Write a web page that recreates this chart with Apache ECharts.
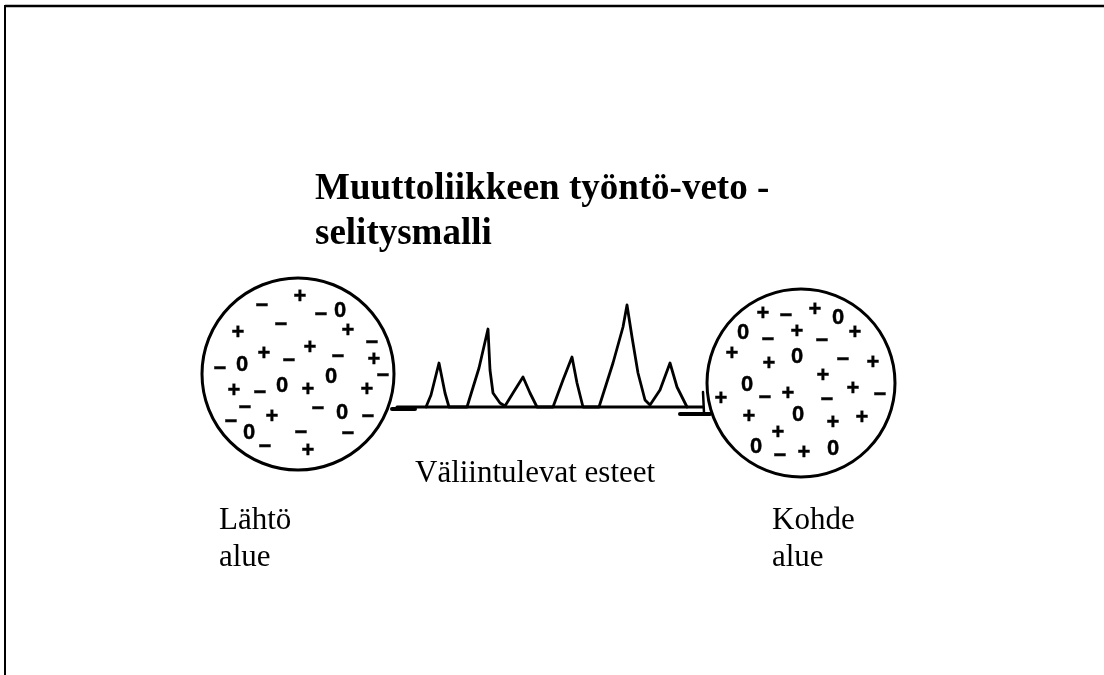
<!DOCTYPE html>
<html>
<head>
<meta charset="utf-8">
<title>Muuttoliikkeen työntö-veto -selitysmalli</title>
<script src="https://cdn.jsdelivr.net/npm/echarts@6/dist/echarts.min.js"></script>
<style>
  html, body { margin: 0; padding: 0; background: #fff; }
  #chart { width: 1104px; height: 675px; }
</style>
</head>
<body>
<div id="chart"></div>
<script>
// drawing space: one unit = one pixel, y grows downwards
const areaCenters = [[298, 374], [801, 383]]

// the obstacles between the areas (peaks)
const obstacleProfile = [
  [426, 407], [431, 395], [439, 363], [445, 393], [449, 407],
  [467, 407], [479, 368], [488, 329], [490, 370], [493, 393], [500, 403], [505, 406],
  [513, 393], [523, 377], [530, 393], [537, 407],
  [553, 407], [563, 380], [572, 357], [577, 383], [583, 407],
  [599, 407], [613, 363], [623, 327], [627, 305], [632, 337], [638, 373], [645, 400], [650, 405],
  [660, 390], [670, 363], [677, 387], [687, 407]
]
const groundLine = [[397, 407], [703, 407]]
const leftStub = [[392, 409], [415, 409]]
const rightStub = [[680, 414], [710, 414]]
const rightEdgeMark = [[703, 392], [704, 413]]

// factors in the origin area (+ pull, − push, 0 neutral)
const originSigns = [
  [300, 297, '+'], [262, 306, '−'], [321, 315, '−'], [340, 311, '0'],
  [238, 333, '+'], [281, 325, '−'], [348, 331, '+'], [372, 343, '−'],
  [310, 348, '+'], [264, 354, '+'], [289, 361, '−'], [338, 357, '−'],
  [374, 360, '+'], [220, 369, '−'], [242, 365, '0'], [331, 377, '0'],
  [383, 376, '−'], [234, 391, '+'], [260, 393, '−'], [282, 386, '0'],
  [308, 390, '+'], [367, 390, '+'], [245, 408, '−'], [231, 422, '−'],
  [272, 417, '+'], [318, 409, '−'], [342, 413, '0'], [368, 417, '−'],
  [249, 433, '0'], [301, 433, '−'], [348, 434, '−'], [265, 447, '−'],
  [308, 451, '+']
]
// factors in the destination area
const destinationSigns = [
  [763, 314, '+'], [786, 316, '−'], [815, 310, '+'], [838, 318, '0'],
  [743, 333, '0'], [768, 340, '−'], [797, 332, '+'], [822, 341, '−'],
  [855, 333, '+'], [732, 354, '+'], [769, 364, '+'], [797, 357, '0'],
  [843, 360, '−'], [873, 363, '+'], [823, 376, '+'], [747, 385, '0'],
  [765, 398, '−'], [788, 394, '+'], [853, 389, '+'], [880, 395, '−'],
  [721, 399, '+'], [827, 400, '−'], [749, 417, '+'], [798, 415, '0'],
  [833, 423, '+'], [862, 418, '+'], [778, 433, '+'], [756, 447, '0'],
  [780, 456, '−'], [804, 453, '+'], [833, 449, '0']
]

const titleText = 'Muuttoliikkeen työntö-veto -\nselitysmalli'
const obstacleText = 'Väliintulevat esteet'
const originText = 'Lähtö\nalue'
const destinationText = 'Kohde\nalue'

const chart = echarts.init(document.getElementById('chart'))

const serif = 'Liberation Serif, Times New Roman, serif'
const plainText = { fontFamily: serif, fontSize: 31, fontWeight: 'normal', lineHeight: 37, color: '#000' }

function signSeries(data) {
  return {
    type: 'scatter',
    data: data,
    symbolSize: 1,
    itemStyle: { color: 'rgba(0,0,0,0)', opacity: 1 },
    silent: true,
    label: {
      show: true,
      position: 'inside',
      formatter: (p) => p.value[2],
      fontFamily: 'Liberation Sans, Arial, sans-serif',
      fontWeight: 'bold',
      fontSize: 22,
      color: '#000',
      textBorderColor: '#000',
      textBorderWidth: 0.4
    },
    z: 4
  }
}

function lineSeries(data, width) {
  return {
    type: 'line',
    data: data,
    symbol: 'none',
    silent: true,
    lineStyle: { color: '#000', width: width, opacity: 1, cap: 'round', join: 'round' },
    z: 3
  }
}

let option = {
  animation: false,
  backgroundColor: '#fff',
  title: [
    {
      text: titleText, left: 315, top: 167, padding: 0,
      textStyle: { fontFamily: serif, fontSize: 37, fontWeight: 'bold', lineHeight: 45, color: '#000' }
    },
    { text: obstacleText, left: 415, top: 455, padding: 0, textStyle: plainText },
    { text: originText, left: 219, top: 502, padding: 0, textStyle: plainText },
    { text: destinationText, left: 772, top: 502, padding: 0, textStyle: plainText }
  ],
  grid: { left: 0, right: 0, top: 0, bottom: 0 },
  xAxis: { type: 'value', min: 0, max: 1104, show: false },
  yAxis: { type: 'value', min: 0, max: 675, inverse: true, show: false },
  graphic: [
    // frame of the slide: top and left edge only
    { type: 'line', shape: { x1: 5, y1: 6, x2: 1104, y2: 6 }, style: { stroke: '#000', lineWidth: 2.5 } },
    { type: 'line', shape: { x1: 5, y1: 5, x2: 5, y2: 675 }, style: { stroke: '#000', lineWidth: 2 } }
  ],
  series: [
    {
      type: 'scatter',
      data: areaCenters,
      symbol: 'circle',
      symbolSize: (v, p) => (p.dataIndex === 0 ? 192 : 188),
      silent: true,
      itemStyle: { color: 'rgba(255,255,255,0)', borderColor: '#000', borderWidth: 3, opacity: 1 },
      z: 2
    },
    lineSeries(obstacleProfile, 2.8),
    lineSeries(groundLine, 3),
    lineSeries(leftStub, 4),
    lineSeries(rightStub, 4),
    lineSeries(rightEdgeMark, 2.5),
    signSeries(originSigns),
    signSeries(destinationSigns)
  ]
}

chart.setOption(option)
</script>
</body>
</html>
